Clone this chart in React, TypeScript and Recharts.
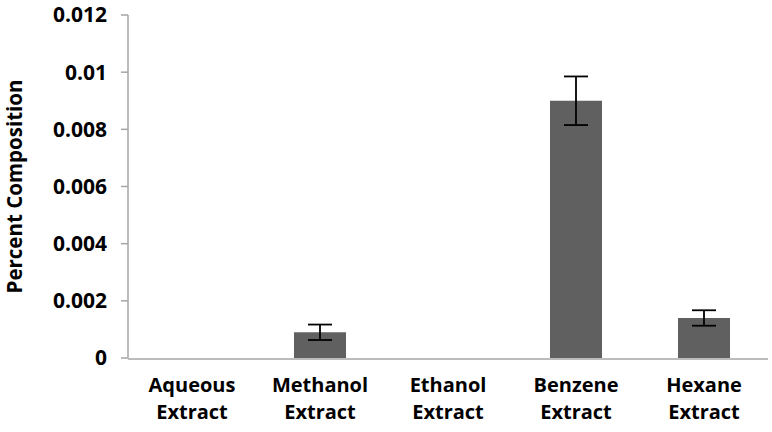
import React from 'react';
import { BarChart, Bar, XAxis, YAxis, ErrorBar } from 'recharts';

const categories = ['Aqueous Extract', 'Methanol Extract', 'Ethanol Extract', 'Benzene Extract', 'Hexane Extract'];
const values = [0, 0.0009, 0, 0.009, 0.0014];
const errors = [0, 0.00027, 0, 0.00085, 0.00027];
const yTicks = [0, 0.002, 0.004, 0.006, 0.008, 0.01, 0.012];
const boundaryTicks = [0, 1, 2, 3, 4, 5];

const data = categories.map((name, i) => ({
  name,
  value: values[i],
  err: errors[i] > 0 ? errors[i] : null,
  pos: i + 0.5,
}));

const FONT = '"Open Sans", "Noto Sans", sans-serif';
const AXIS_COLOR = '#a6a6a6';

const CategoryTick = (props: any) => {
  const { x, y, payload } = props;
  const words = String(payload.value).split(' ');
  return (
    <g>
      <text x={x} y={y} textAnchor="middle" fontFamily={FONT} fontWeight={700} fontSize={20} fill="#000">
        <tspan x={x} dy={25}>{words[0]}</tspan>
        <tspan x={x} dy={27}>{words[1]}</tspan>
      </text>
    </g>
  );
};

export default function App() {
  return (
    <div style={{ position: 'absolute', left: 0, top: 0, width: 772, height: 432, background: '#fff' }}>
      <BarChart
        width={772}
        height={432}
        data={data}
        margin={{ top: 15, right: 4, bottom: 0, left: 0 }}
        barCategoryGap="30%"
      >
        <XAxis
          dataKey="name"
          xAxisId="cat"
          tick={<CategoryTick />}
          tickLine={false}
          axisLine={{ stroke: AXIS_COLOR, strokeWidth: 1.5 }}
          interval={0}
          height={73}
        />
        <XAxis
          dataKey="pos"
          xAxisId="bound"
          type="number"
          domain={[0, 5]}
          ticks={boundaryTicks}
          tick={false}
          tickLine={{ stroke: AXIS_COLOR, strokeWidth: 1.5 }}
          tickSize={7}
          axisLine={false}
          height={1}
          allowDataOverflow
        />
        <YAxis
          width={128}
          domain={[0, 0.012]}
          ticks={yTicks}
          interval={0}
          tick={{ fontFamily: FONT, fontWeight: 700, fontSize: 21, fill: '#000' }}
          tickLine={{ stroke: AXIS_COLOR, strokeWidth: 1.5 }}
          axisLine={{ stroke: AXIS_COLOR, strokeWidth: 1.5 }}
          tickSize={7}
          tickMargin={14}
          label={{
            value: 'Percent Composition',
            angle: -90,
            position: 'center',
            dx: -49,
            style: { fontFamily: FONT, fontWeight: 700, fontSize: 20.5, fill: '#000', textAnchor: 'middle' },
          }}
        />
        <Bar dataKey="value" xAxisId="cat" fill="#606060" barSize={52} isAnimationActive={false}>
          <ErrorBar dataKey="err" width={12} stroke="#000" strokeWidth={1.8} direction="y" />
        </Bar>
      </BarChart>
    </div>
  );
}
